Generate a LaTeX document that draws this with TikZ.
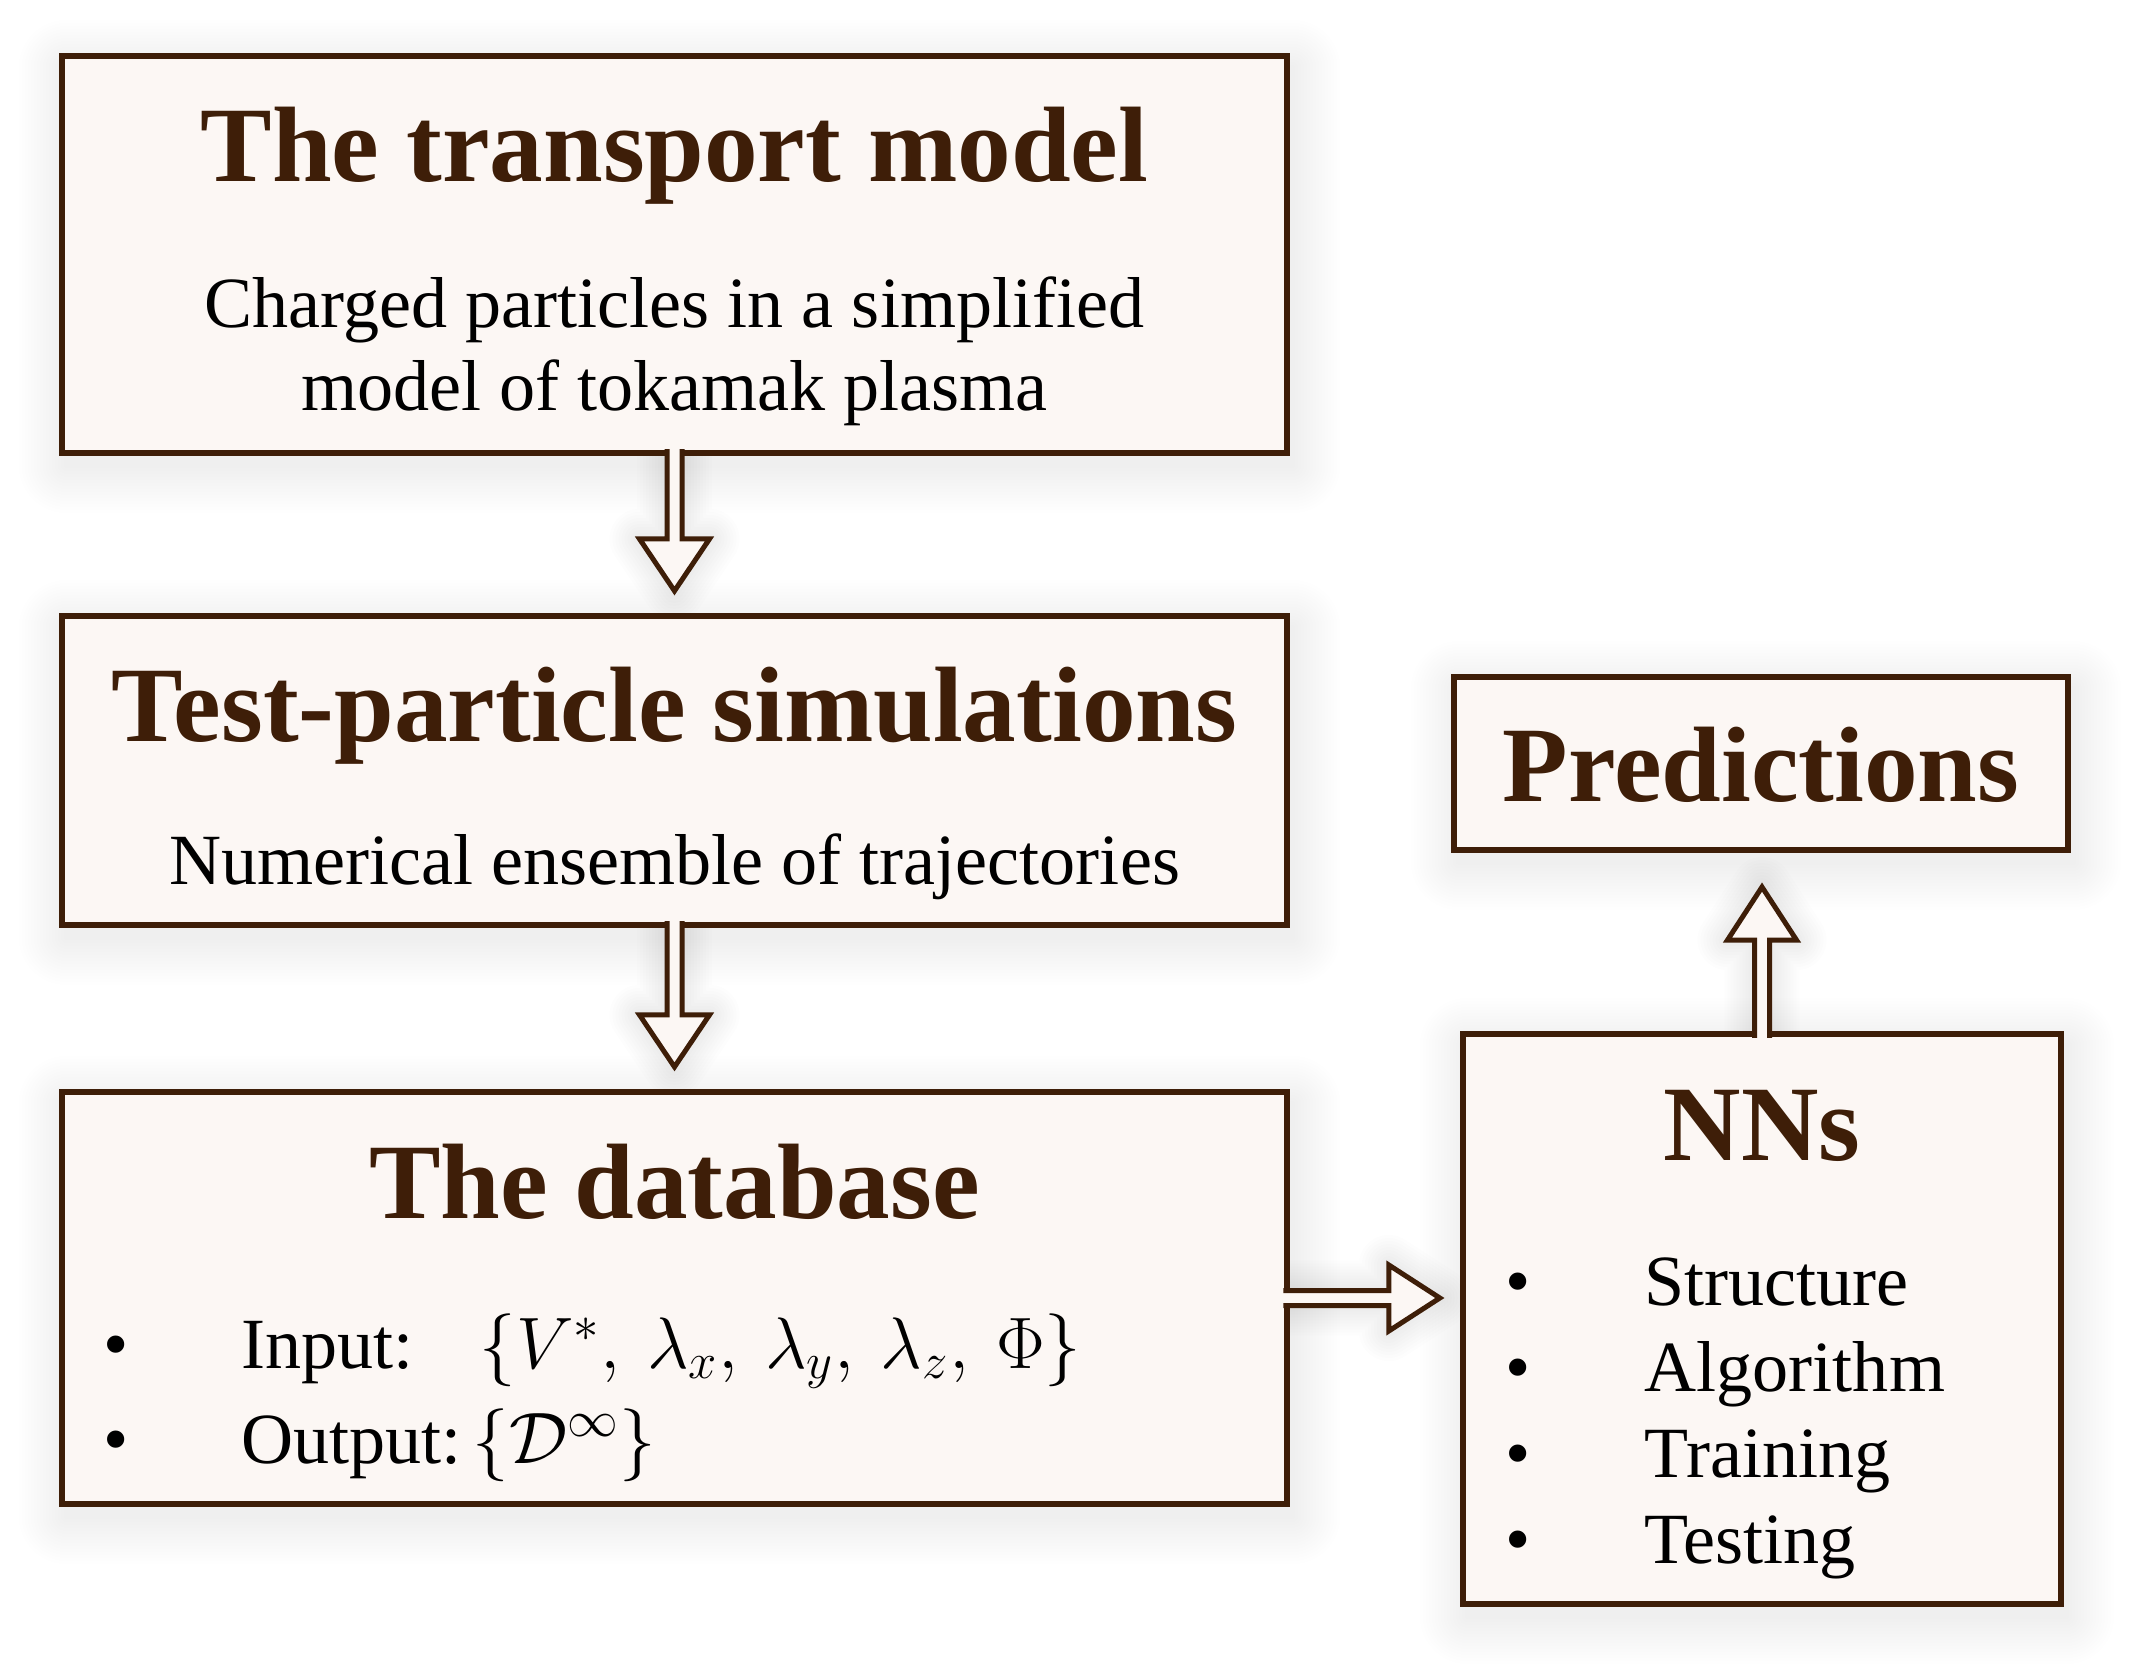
\documentclass[tikz,border=0pt]{standalone}
\usepackage{fontspec}
\setmainfont{Liberation Serif}
\usetikzlibrary{calc,backgrounds}
\definecolor{brn}{HTML}{3E1E08}
\definecolor{boxfill}{HTML}{FCF7F4}
\tikzset{
  box/.style={draw=brn, line width=0.06cm, fill=boxfill, rectangle, inner sep=0pt, outer sep=0pt},
  ttl/.style={anchor=base, text=brn, font=\fontsize{30.5}{36}\selectfont\bfseries, inner sep=0pt},
  body/.style={anchor=base, text=black, font=\fontsize{20.5}{24}\selectfont, inner sep=0pt},
  bodyw/.style={body, anchor=base west},
  barrow/.style={draw=brn, fill=boxfill, line width=0.05cm, miter limit=10},
  shline/.style={draw=black, draw opacity=0.006, line width=#1, line join=round, fill=none},
}
% soft shadow behind a box node
\newcommand{\boxshadow}[1]{%
  \foreach \r in {3,6,...,48} {
    \fill[black, fill opacity=0.005, rounded corners=\r*0.01cm]
      ($(#1.north west)+(5-\r,12-\r)$) rectangle ($(#1.south east)+(5+\r,12+\r)$);
  }}
% block arrows (options, start coordinate, tip coordinate)
\newcommand{\downblock}[3]{%
  \draw[#1] ($(#2)+(-7.5,0)$) -- ($(#3)+(-7.5,-52)$) -- ($(#3)+(-35,-52)$) -- (#3)
    -- ($(#3)+(35,-52)$) -- ($(#3)+(7.5,-52)$) -- ($(#2)+(7.5,0)$);}
\newcommand{\rightblock}[3]{%
  \draw[#1] ($(#2)+(0,-7.5)$) -- ($(#3)+(-51,-7.5)$) -- ($(#3)+(-51,-33)$) -- (#3)
    -- ($(#3)+(-51,33)$) -- ($(#3)+(-51,7.5)$) -- ($(#2)+(0,7.5)$);}
\newcommand{\upblock}[3]{%
  \draw[#1] ($(#2)+(-7.5,0)$) -- ($(#3)+(-7.5,53)$) -- ($(#3)+(-34.5,53)$) -- (#3)
    -- ($(#3)+(34.5,53)$) -- ($(#3)+(7.5,53)$) -- ($(#2)+(7.5,0)$);}
\begin{document}
\begin{tikzpicture}[x=0.01cm, y=-0.01cm]
\useasboundingbox (0,0) rectangle (2135,1670);

% boxes
\node[box, minimum width=12.25cm, minimum height=3.97cm] (b1) at (674.5,254.5) {};
\node[box, minimum width=12.25cm, minimum height=3.09cm] (b2) at (674.5,770.5) {};
\node[box, minimum width=12.25cm, minimum height=4.12cm] (b3) at (674.5,1298) {};
\node[box, minimum width=6.14cm, minimum height=1.73cm] (pr) at (1761,763.5) {};
\node[box, minimum width=5.98cm, minimum height=5.70cm] (nn) at (1762,1319) {};

% arrow anchor coordinates
\coordinate (a1s) at ($(b1.south)+(0,-4)$);
\coordinate (a1t) at ($(b2.north)+(0,-25)$);
\coordinate (a2s) at ($(b2.south)+(0,-4)$);
\coordinate (a2t) at ($(b3.north)+(0,-25)$);
\coordinate (a3s) at ($(b3.east)+(-4,0)$);
\coordinate (a3t) at ($(a3s -| nn.west)+(-23,0)$);
\coordinate (a4s) at ($(nn.north)+(0,4)$);
\coordinate (a4t) at ($(a4s |- pr.south)+(0,37)$);

% block arrows
\downblock{barrow}{a1s}{a1t}
\downblock{barrow}{a2s}{a2t}
\rightblock{barrow}{a3s}{a3t}
\upblock{barrow}{a4s}{a4t}

% shadows
\begin{pgfonlayer}{background}
  \fill[white] (0,0) rectangle (2135,1670);
  \boxshadow{b1}
  \boxshadow{b2}
  \boxshadow{b3}
  \boxshadow{pr}
  \boxshadow{nn}
  \foreach \w in {6,12,...,60} {
    \downblock{shline=\w*0.01cm}{a1s}{a1t}
    \downblock{shline=\w*0.01cm}{a2s}{a2t}
    \rightblock{shline=\w*0.01cm}{a3s}{a3t}
    \upblock{shline=\w*0.01cm}{a4s}{a4t}
  }
\end{pgfonlayer}

% texts
\node[ttl] (t1) at (674.5,182) {The transport model};
\node[body] (t1a) at (674.5,328) {Charged particles in a simplified};
\node[body] (t1b) at (674.5,411) {model of tokamak plasma};

\node[ttl] (t2) at (674.5,742) {Test-particle simulations};
\node[body] (t2a) at (674.5,885) {Numerical ensemble of trajectories};

\node[ttl] (t3) at (674.5,1218) {The database};
\node[body] (d1b) at (116,1368) {\textbullet};
\node[bodyw] (d1) at (241,1368) {Input:};
\node[bodyw] (d1m) at (479,1368) {$\bigl\{V^{*},\hspace{0.2em}\lambda_{x},\hspace{0.2em}\lambda_{y},\hspace{0.2em}\lambda_{z},\hspace{0.2em}\Phi\bigr\}$};
\node[body] (d2b) at (116,1463) {\textbullet};
\node[bodyw] (d2) at (241,1463) {Output:\hspace{0.15em}$\{\mathcal{D}^{\infty}\}$};

\node[ttl] (tp) at (1761,802) {Predictions};

\node[ttl] (tn) at (1762,1160) {NNs};
\node[body] (n1b) at (1518,1305) {\textbullet};
\node[bodyw] (n1) at (1644,1305) {Structure};
\node[body] (n2b) at (1518,1391) {\textbullet};
\node[bodyw] (n2) at (1644,1391) {Algorithm};
\node[body] (n3b) at (1518,1477) {\textbullet};
\node[bodyw] (n3) at (1644,1477) {Training};
\node[body] (n4b) at (1518,1563) {\textbullet};
\node[bodyw] (n4) at (1644,1563) {Testing};
\end{tikzpicture}
\end{document}
